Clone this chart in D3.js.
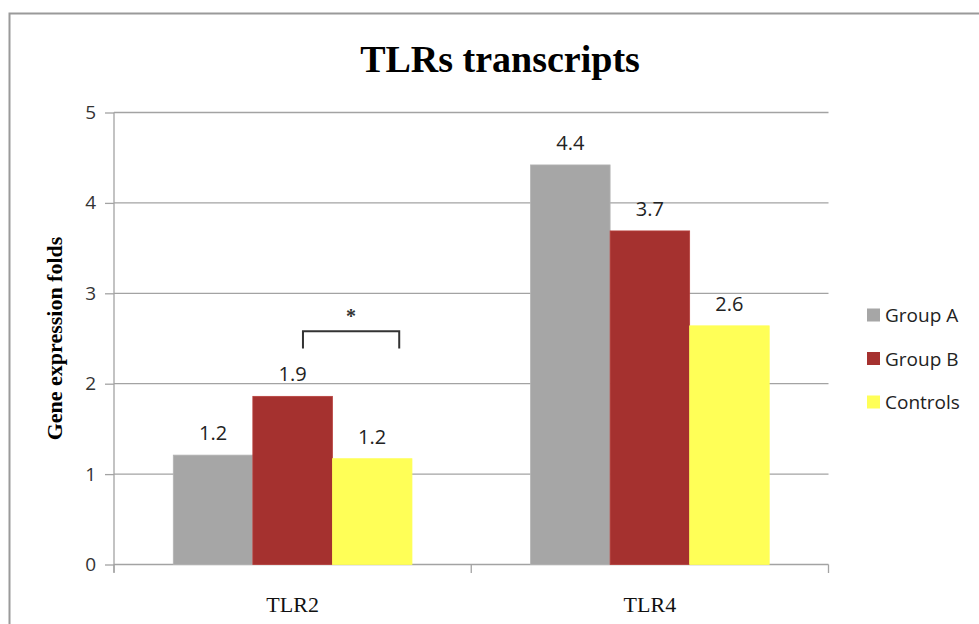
<!DOCTYPE html>
<html>
<head>
<meta charset="utf-8">
<script src="https://cdn.jsdelivr.net/npm/d3@7"></script>
<style>
  html, body { margin: 0; padding: 0; background: #fff; }
  svg { display: block; }
</style>
</head>
<body>
<svg id="chart" width="979" height="624"></svg>
<script>
// ---- data ----
const categories = ["TLR2", "TLR4"];
const seriesNames = ["Group A", "Group B", "Controls"];
const groupA = [1.21, 4.42];
const groupB = [1.86, 3.69];
const controls = [1.17, 2.64];
const yTicks = [0, 1, 2, 3, 4, 5];
const titleText = "TLRs transcripts";
const yAxisTitle = "Gene expression folds";
const significance = [{ category: "TLR2", from: "Group B", to: "Controls", level: 2.58, drop: 0.19, label: "*" }];

const colors = { "Group A": "#a6a6a6", "Group B": "#a5312f", "Controls": "#ffff57" };
const strokes = { "Group A": "#b4b4b4", "Group B": "#b8403c", "Controls": "#ffff57" };
const seriesValues = [groupA, groupB, controls];

const svg = d3.select("#chart");

// outer chart border
svg.append("path")
  .attr("d", "M9.5,630 L9.5,13.5 L985,13.5")
  .attr("fill", "none").attr("stroke", "#9a9a9a").attr("stroke-width", 2);

const plot = { left: 114, right: 828.5, top: 112.5, bottom: 564.5 };

const x = d3.scaleBand().domain(categories).range([plot.left, plot.right]).padding(0);
const xInner = d3.scaleBand().domain(seriesNames).range([59.3, x.bandwidth() - 59.3]).padding(0);
const y = d3.scaleLinear().domain([0, 5]).range([plot.bottom, plot.top]);

const sans = "'Open Sans', 'Liberation Sans', sans-serif";
const serif = "'Liberation Serif', 'DejaVu Serif', serif";

// gridlines
svg.append("g").selectAll("line").data(yTicks).join("line")
  .attr("x1", plot.left).attr("x2", plot.right)
  .attr("y1", d => y(d)).attr("y2", d => y(d))
  .attr("stroke", "#a3a3a3").attr("stroke-width", 1.3);

// y axis
const yAxis = d3.axisLeft(y).tickValues(yTicks).tickSize(9).tickPadding(9).tickFormat(d3.format("d"));
const gy = svg.append("g").attr("transform", `translate(${plot.left},0)`).call(yAxis);
gy.select(".domain").attr("stroke", "#a3a3a3").attr("stroke-width", 1.3)
  .attr("d", `M0,${plot.top}V${plot.bottom + 8}`);
gy.selectAll(".tick line").attr("stroke", "#a3a3a3").attr("stroke-width", 1.3);
gy.selectAll(".tick text").attr("font-family", sans).attr("font-size", 19).attr("fill", "#333");

// x axis
const xAxis = d3.axisBottom(x).tickSize(0).tickPadding(32);
const gx = svg.append("g").attr("transform", `translate(0,${plot.bottom})`).call(xAxis);
gx.select(".domain").remove();
gx.selectAll(".tick text").attr("font-family", serif).attr("font-size", 22).attr("fill", "#111");
// category boundary ticks
const bounds = [x(categories[0]), x(categories[1]), x(categories[1]) + x.bandwidth()];
svg.append("g").selectAll("line").data(bounds).join("line")
  .attr("x1", d => d).attr("x2", d => d)
  .attr("y1", plot.bottom).attr("y2", plot.bottom + 8.5)
  .attr("stroke", "#a3a3a3").attr("stroke-width", 1.3);

// bars
const barData = [];
categories.forEach((c, i) => seriesNames.forEach((s, j) => barData.push({ c, s, v: seriesValues[j][i] })));

svg.append("g").selectAll("rect").data(barData).join("rect")
  .attr("x", d => x(d.c) + xInner(d.s))
  .attr("y", d => y(d.v))
  .attr("width", xInner.bandwidth())
  .attr("height", d => y(0) - y(d.v))
  .attr("fill", d => colors[d.s])
  .attr("stroke", d => strokes[d.s]).attr("stroke-width", 0.8);

// value labels
svg.append("g").selectAll("text").data(barData).join("text")
  .attr("x", d => x(d.c) + xInner(d.s) + xInner.bandwidth() / 2)
  .attr("y", d => y(d.v) - 15)
  .attr("text-anchor", "middle")
  .attr("font-family", sans).attr("font-size", 20).attr("fill", "#222")
  .text(d => d3.format(".1f")(d.v));

// significance bracket
significance.forEach(sg => {
  const x1 = x(sg.category) + xInner(sg.from) + xInner.bandwidth() * 0.63;
  const x2 = x(sg.category) + xInner(sg.to) + xInner.bandwidth() * 0.84;
  const yTop = y(sg.level), yBot = y(sg.level - sg.drop);
  svg.append("path")
    .attr("d", `M${x1},${yBot}V${yTop}H${x2}V${yBot}`)
    .attr("fill", "none").attr("stroke", "#333").attr("stroke-width", 2);
  svg.append("text")
    .attr("x", (x1 + x2) / 2).attr("y", yTop - 8)
    .attr("text-anchor", "middle")
    .attr("font-family", serif).attr("font-size", 20).attr("font-weight", "bold").attr("fill", "#333")
    .text(sg.label);
});

// title
svg.append("text")
  .attr("x", 500).attr("y", 72)
  .attr("text-anchor", "middle")
  .attr("font-family", serif).attr("font-weight", "bold").attr("font-size", 38).attr("fill", "#000")
  .text(titleText);

// y axis title
svg.append("text")
  .attr("transform", `translate(62,${(plot.top + plot.bottom) / 2}) rotate(-90)`)
  .attr("text-anchor", "middle")
  .attr("font-family", serif).attr("font-weight", "bold").attr("font-size", 22).attr("fill", "#000")
  .text(yAxisTitle);

// legend
const legend = svg.append("g");
const legendY = [315, 358.5, 402];
seriesNames.forEach((s, i) => {
  legend.append("rect")
    .attr("x", 867).attr("y", legendY[i] - 6.5).attr("width", 13).attr("height", 13)
    .attr("fill", colors[s]);
  legend.append("text")
    .attr("x", 885).attr("y", legendY[i] + 7)
    .attr("font-family", sans).attr("font-size", 19).attr("fill", "#222")
    .text(s);
});
</script>
</body>
</html>
